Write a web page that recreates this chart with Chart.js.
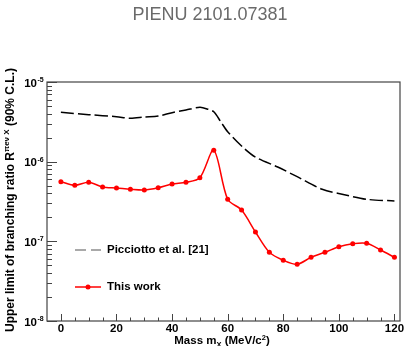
<!DOCTYPE html>
<html>
<head>
<meta charset="utf-8">
<script src="https://cdn.jsdelivr.net/npm/chart.js@4"></script>
<style>
  html, body { margin: 0; padding: 0; background: #fff; }
  #wrap { width: 404px; height: 346px; }
</style>
</head>
<body>
<div id="wrap"><canvas id="chart"></canvas></div>
<script>
// mass points (MeV/c^2) and upper limits
const massX = [0, 5, 10, 15, 20, 25, 30, 35, 40, 45, 50, 55, 60, 65, 70, 75, 80, 85, 90, 95, 100, 105, 110, 115, 120];
const thisWork = [5.61e-7, 5.05e-7, 5.51e-7, 4.81e-7, 4.67e-7, 4.50e-7, 4.41e-7, 4.71e-7, 5.25e-7, 5.51e-7, 6.29e-7, 1.39e-6,
                  3.37e-7, 2.47e-7, 1.31e-7, 7.28e-8, 5.78e-8, 5.15e-8, 6.30e-8, 7.28e-8, 8.57e-8, 9.34e-8, 9.44e-8, 7.78e-8, 6.30e-8];

const picX = [0, 10, 20, 25, 30, 35, 40, 45, 50, 53, 55, 57.5, 60, 65, 70, 78, 85, 94, 102, 110, 120];
const picciotto = [4.17e-6, 3.89e-6, 3.67e-6, 3.50e-6, 3.63e-6, 3.74e-6, 4.12e-6, 4.46e-6, 4.81e-6, 4.54e-6, 4.23e-6, 3.18e-6,
                   2.38e-6, 1.57e-6, 1.14e-6, 8.57e-7, 6.48e-7, 4.50e-7, 3.85e-7, 3.37e-7, 3.21e-7];

// axis ticks
const xMajor = [0, 20, 40, 60, 80, 100, 120];
const xMinor = [5, 10, 15, 25, 30, 35, 45, 50, 55, 65, 70, 75, 85, 90, 95, 105, 110, 115];
const yDecades = [-8, -7, -6, -5];

const FONT = "'Liberation Sans', Arial, Helvetica, sans-serif";

function pairs(xs, ys) {
    return xs.map((x, i) => ({ x: x, y: ys[i] }));
}

// draws a string made of pieces (normal / super / subscript), left to right
function richText(ctx, parts, x, y, align) {
    let total = 0;
    parts.forEach(p => {
        ctx.font = 'bold ' + p.size + 'px ' + FONT;
        p.w = ctx.measureText(p.t).width;
        total += p.w;
    });
    let cx = align === 'center' ? x - total / 2 : x;
    parts.forEach(p => {
        ctx.font = 'bold ' + p.size + 'px ' + FONT;
        ctx.fillText(p.t, cx, y + (p.dy || 0));
        cx += p.w;
    });
}

const rootStyle = {
    id: 'rootStyle',
    afterDraw(chart) {
        const ctx = chart.ctx;
        const a = chart.chartArea;
        const xs = chart.scales.x, ys = chart.scales.y;
        ctx.save();

        // title
        ctx.fillStyle = '#6a6a6a';
        ctx.font = '18px ' + FONT;
        ctx.textAlign = 'center';
        ctx.textBaseline = 'middle';
        ctx.fillText('PIENU 2101.07381', 210, 15);

        // frame
        ctx.strokeStyle = '#444';
        ctx.lineWidth = 1.2;
        ctx.strokeRect(a.left, a.top, a.right - a.left, a.bottom - a.top);

        // x ticks (inward)
        ctx.lineWidth = 1;
        ctx.beginPath();
        xMajor.forEach(v => {
            const px = Math.round(xs.getPixelForValue(v)) + 0.5;
            ctx.moveTo(px, a.bottom); ctx.lineTo(px, a.bottom - 7);
        });
        xMinor.forEach(v => {
            const px = Math.round(xs.getPixelForValue(v)) + 0.5;
            ctx.moveTo(px, a.bottom); ctx.lineTo(px, a.bottom - 3.5);
        });
        // y ticks (inward)
        yDecades.forEach(e => {
            const py = Math.round(ys.getPixelForValue(Math.pow(10, e))) + 0.5;
            ctx.moveTo(a.left, py); ctx.lineTo(a.left + 10, py);
            if (e < -5) {
                for (let m = 2; m <= 9; m++) {
                    const q = Math.round(ys.getPixelForValue(m * Math.pow(10, e))) + 0.5;
                    ctx.moveTo(a.left, q); ctx.lineTo(a.left + 5, q);
                }
            }
        });
        ctx.stroke();

        // x tick labels
        ctx.fillStyle = '#000';
        ctx.font = 'bold 11.5px ' + FONT;
        ctx.textAlign = 'center';
        ctx.textBaseline = 'top';
        xMajor.forEach(v => ctx.fillText(String(v), xs.getPixelForValue(v), a.bottom + 2));

        // y tick labels 10^n
        yDecades.forEach(e => {
            const py = ys.getPixelForValue(Math.pow(10, e));
            ctx.textAlign = 'right';
            ctx.textBaseline = 'middle';
            ctx.font = 'bold 11.5px ' + FONT;
            ctx.fillText('10', 37, py + 1.5);
            ctx.textAlign = 'left';
            ctx.textBaseline = 'alphabetic';
            ctx.font = 'bold 7px ' + FONT;
            ctx.fillText(String(e), 37.5, py);
        });

        // axis titles
        ctx.textAlign = 'left';
        ctx.textBaseline = 'alphabetic';
        richText(ctx, [
            { t: 'Mass m', size: 11.5 },
            { t: 'X', size: 7.5, dy: 2.5 },
            { t: ' (MeV/c', size: 11.5 },
            { t: '2', size: 7.5, dy: -4.5 },
            { t: ')', size: 11.5 }
        ], 222, 344, 'center');

        ctx.save();
        ctx.translate(14, 200);
        ctx.rotate(-Math.PI / 2);
        richText(ctx, [
            { t: 'Upper limit of branching ratio R', size: 12 },
            { t: '\u03c0e\u03bd X', size: 8, dy: -5 },
            { t: ' (90% C.L.)', size: 12 }
        ], 0, 0, 'center');
        ctx.restore();

        // legend
        const ds = chart.data.datasets;
        const rows = [{ d: ds[0], y: 250 }, { d: ds[1], y: 287 }];
        rows.forEach(r => {
            ctx.strokeStyle = r.d.borderDash ? '#555' : r.d.borderColor;
            ctx.lineWidth = r.d.borderDash ? 1.2 : r.d.borderWidth;
            ctx.setLineDash(r.d.borderDash ? [11, 5] : []);
            ctx.beginPath();
            ctx.moveTo(75, r.y); ctx.lineTo(101, r.y);
            ctx.stroke();
            ctx.setLineDash([]);
            if (r.d.pointRadius > 0) {
                ctx.fillStyle = r.d.pointBackgroundColor;
                ctx.beginPath();
                ctx.arc(88, r.y, r.d.pointRadius, 0, Math.PI * 2);
                ctx.fill();
            }
            ctx.fillStyle = '#000';
            ctx.font = 'bold 11.5px ' + FONT;
            ctx.textAlign = 'left';
            ctx.textBaseline = 'middle';
            ctx.fillText(r.d.label, 107, r.y);
        });
        ctx.restore();
    }
};

new Chart(document.getElementById('chart'), {
    type: 'line',
    data: {
        datasets: [{
            label: 'Picciotto et al. [21]',
            data: pairs(picX, picciotto),
            borderColor: '#000',
            borderWidth: 1.5,
            borderDash: [13, 4],
            pointRadius: 0,
            tension: 0.3,
            fill: false
        }, {
            label: 'This work',
            data: pairs(massX, thisWork),
            borderColor: '#ff0000',
            borderWidth: 1.5,
            pointRadius: 2.5,
            pointBackgroundColor: '#ff0000',
            pointBorderWidth: 0,
            tension: 0.3,
            fill: false
        }]
    },
    options: {
        responsive: true,
        maintainAspectRatio: false,
        animation: false,
        devicePixelRatio: 1,
        layout: { padding: { left: 47, right: 3, top: 82, bottom: 25 } },
        plugins: {
            legend: { display: false },
            title: { display: false },
            tooltip: { enabled: false }
        },
        scales: {
            x: { type: 'linear', min: -5, max: 122, display: false },
            y: { type: 'logarithmic', min: 1e-8, max: 1e-5, display: false }
        }
    },
    plugins: [rootStyle]
});
</script>
</body>
</html>
